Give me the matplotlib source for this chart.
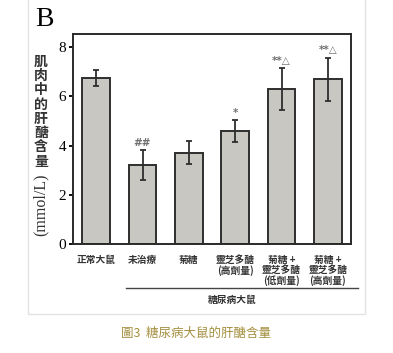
import matplotlib
matplotlib.use("Agg")
import matplotlib.pyplot as plt
from matplotlib.patches import Rectangle
from matplotlib.lines import Line2D

# data
groups = ["正常大鼠", "未治療", "菊糖", "靈芝多醣\n(高劑量)",
          "菊糖 +\n靈芝多醣\n(低劑量)", "菊糖 +\n靈芝多醣\n(高劑量)"]
means = [6.75, 3.22, 3.72, 4.58, 6.30, 6.70]
errs = [0.33, 0.60, 0.45, 0.45, 0.85, 0.88]
marks = ["", "##", "", "*", "**△", "**△"]
yticks = [0, 2, 4, 6, 8]

cjk = ["Noto Sans CJK TC", "DejaVu Sans"]
serif = "Liberation Serif"

fig = plt.figure(figsize=(3.93, 3.53), dpi=100)
W, H = 393, 353

def fx(px):
    return px / W

def fy(py):
    return 1 - py / H

# card frame
fig.patches.append(Rectangle((fx(28), fy(314)), fx(365) - fx(28), fy(-2) - fy(314),
                             transform=fig.transFigure, fill=False,
                             edgecolor="#e2e2e2", linewidth=1.0))

ax = fig.add_axes([fx(73), fy(244), fx(351) - fx(73), fy(34) - fy(244)])
x = list(range(len(means)))
ax.bar(x, means, width=0.6, color="#c9c7c1", edgecolor="#2e2e2e", linewidth=1.4)
ax.errorbar(x, means, yerr=errs, fmt="none", ecolor="#2e2e2e",
            elinewidth=1.3, capsize=2.2, capthick=1.3)
for xi, m, e, t in zip(x, means, errs, marks):
    if t:
        ax.text(xi, m + e + 0.1, t, ha="center", va="bottom",
                fontsize=7.5, fontweight="bold", color="#707070",
                family=["DejaVu Sans"])

ax.set_xlim(-0.5, 5.5)
ax.set_ylim(0, 8.54)
ax.set_yticks(yticks)
ax.set_yticklabels([str(v) for v in yticks], family=serif, fontsize=11)
ax.set_xticks(x)
ax.set_xticklabels(groups, family=cjk, fontsize=7, fontweight="bold",
                   linespacing=1.0, va="top", color="#333333")
ax.tick_params(axis="x", length=0, pad=8)
ax.tick_params(axis="y", length=3, width=1.3, pad=2)
for s in ax.spines.values():
    s.set_linewidth(1.4)
    s.set_color("#2a2a2a")

# y label: upright characters then rotated unit
fig.text(fx(41), fy(55), "\n".join("肌肉中的肝醣含量"), ha="center", va="top",
         family=cjk, fontsize=10, fontweight="bold", linespacing=1.02, color="#333333")
fig.text(fx(41), fy(205), "(mmol/L)", ha="center", va="center", rotation=90,
         family=serif, fontsize=11.5, color="#333333")

# group bracket
fig.add_artist(Line2D([fx(126), fx(358)], [fy(288), fy(288)], color="#444444", linewidth=1.0))
fig.text(fx(232), fy(300), "糖尿病大鼠", ha="center", va="center",
         family=cjk, fontsize=7, fontweight="bold", color="#333333")

fig.text(fx(35), fy(20), "B", ha="left", va="center", family=serif, fontsize=20)

fig.text(fx(196), fy(333), "圖3  糖尿病大鼠的肝醣含量", ha="center", va="center",
         family=cjk, fontsize=9, color="#a38f3f")

fig.savefig("out.png", dpi=100, facecolor="white")
